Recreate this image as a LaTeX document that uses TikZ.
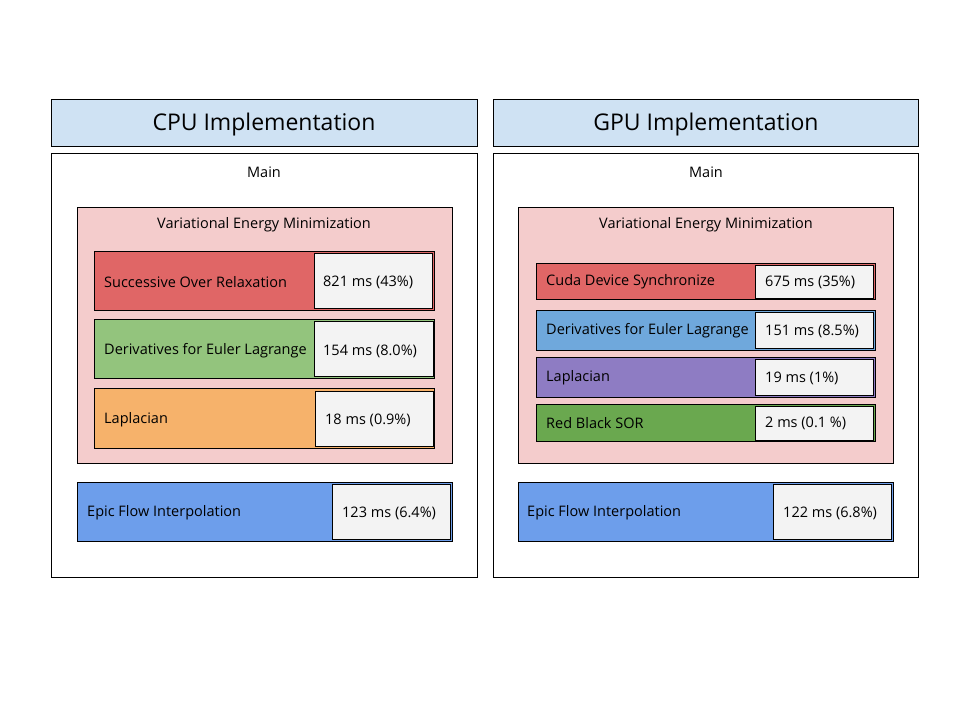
\documentclass[tikz,border=0pt]{standalone}
\usepackage{fontspec}
\setmainfont{Open Sans}
\definecolor{hdr}{HTML}{CFE2F3}
\definecolor{vem}{HTML}{F4CCCC}
\definecolor{cred}{HTML}{E06666}
\definecolor{cgreen}{HTML}{93C47D}
\definecolor{corange}{HTML}{F6B26B}
\definecolor{cblue}{HTML}{6D9EEB}
\definecolor{cblue2}{HTML}{6FA8DC}
\definecolor{cpurple}{HTML}{8E7CC3}
\definecolor{cgreen2}{HTML}{6AA84F}
\definecolor{valbg}{HTML}{F3F3F3}
\begin{document}
\begin{tikzpicture}[x=1pt,y=-1pt,
  box/.style={draw=black,line width=0.9pt},
  hdrtxt/.style={font=\fontsize{23}{27}\selectfont},
  lbl/.style={font=\fontsize{14.5}{17}\selectfont},
  rowtxt/.style={font=\fontsize{14.5}{17}\selectfont,anchor=west,inner sep=0pt},
  valtxt/.style={font=\fontsize{14.5}{17}\selectfont,anchor=west,inner sep=0pt}]
\useasboundingbox (0,0) rectangle (960,720);
\fill[white] (0,0) rectangle (960,720);
% ---------- CPU ----------
\draw[box,fill=hdr] (51,99) rectangle (477,146);
\node[hdrtxt] (cpuh) at (264,125) {CPU Implementation};
\draw[box] (51,153) rectangle (477,577);
\node[lbl] (cpumain) at (264,172) {Main};
\draw[box,fill=vem] (77,207) rectangle (452,463);
\node[lbl] (cpuvem) at (264,225) {Variational Energy Minimization};
% SOR
\draw[box,fill=cred] (94,251) rectangle (434,310);
\draw[box,fill=valbg] (314,253) rectangle (432,308);
\node[rowtxt] (c1) at (104,282) {Successive Over Relaxation};
\node[valtxt] (c1v) at (323,282) {821 ms (43\%)};
% Derivatives
\draw[box,fill=cgreen] (94,319) rectangle (434,378);
\draw[box,fill=valbg] (314,321) rectangle (433,376);
\node[rowtxt] (c2) at (104,351) {Derivatives for Euler Lagrange};
\node[valtxt] (c2v) at (323,351) {154 ms (8.0\%)};
% Laplacian
\draw[box,fill=corange] (94,388) rectangle (434,448);
\draw[box,fill=valbg] (315,391) rectangle (433,446);
\node[rowtxt] (c3) at (104,420) {Laplacian};
\node[valtxt] (c3v) at (325,420) {18 ms (0.9\%)};
% Epic
\draw[box,fill=cblue] (77,482) rectangle (452,541);
\draw[box,fill=valbg] (332,484) rectangle (450,539);
\node[rowtxt] (c4) at (87,513) {Epic Flow Interpolation};
\node[valtxt] (c4v) at (342,513) {123 ms (6.4\%)};
% ---------- GPU ----------
\draw[box,fill=hdr] (493,99) rectangle (918,146);
\node[hdrtxt] (gpuh) at (706,125) {GPU Implementation};
\draw[box] (493,153) rectangle (918,577);
\node[lbl] (gpumain) at (706,172) {Main};
\draw[box,fill=vem] (518,207) rectangle (893,463);
\node[lbl] (gpuvem) at (706,225) {Variational Energy Minimization};
% Cuda
\draw[box,fill=cred] (536,263) rectangle (875,299);
\draw[box,fill=valbg] (755,265) rectangle (873,298);
\node[rowtxt] (g1) at (546,282) {Cuda Device Synchronize};
\node[valtxt] (g1v) at (765,282) {675 ms (35\%)};
% Derivatives
\draw[box,fill=cblue2] (536,310) rectangle (875,350);
\draw[box,fill=valbg] (755,312) rectangle (873,348);
\node[rowtxt] (g2) at (546,331) {Derivatives for Euler Lagrange};
\node[valtxt] (g2v) at (765,331) {151 ms (8.5\%)};
% Laplacian
\draw[box,fill=cpurple] (536,357) rectangle (875,397);
\draw[box,fill=valbg] (755,359) rectangle (873,395);
\node[rowtxt] (g3) at (546,378) {Laplacian};
\node[valtxt] (g3v) at (765,378) {19 ms (1\%)};
% Red Black SOR
\draw[box,fill=cgreen2] (536,404) rectangle (875,441);
\draw[box,fill=valbg] (755,406) rectangle (873,440);
\node[rowtxt] (g4) at (546,423) {Red Black SOR};
\node[valtxt] (g4v) at (765,423) {2 ms (0.1 \%)};
% Epic
\draw[box,fill=cblue] (518,482) rectangle (893,541);
\draw[box,fill=valbg] (773,484) rectangle (891,539);
\node[rowtxt] (g5) at (527,513) {Epic Flow Interpolation};
\node[valtxt] (g5v) at (783,513) {122 ms (6.8\%)};
\end{tikzpicture}
\end{document}
